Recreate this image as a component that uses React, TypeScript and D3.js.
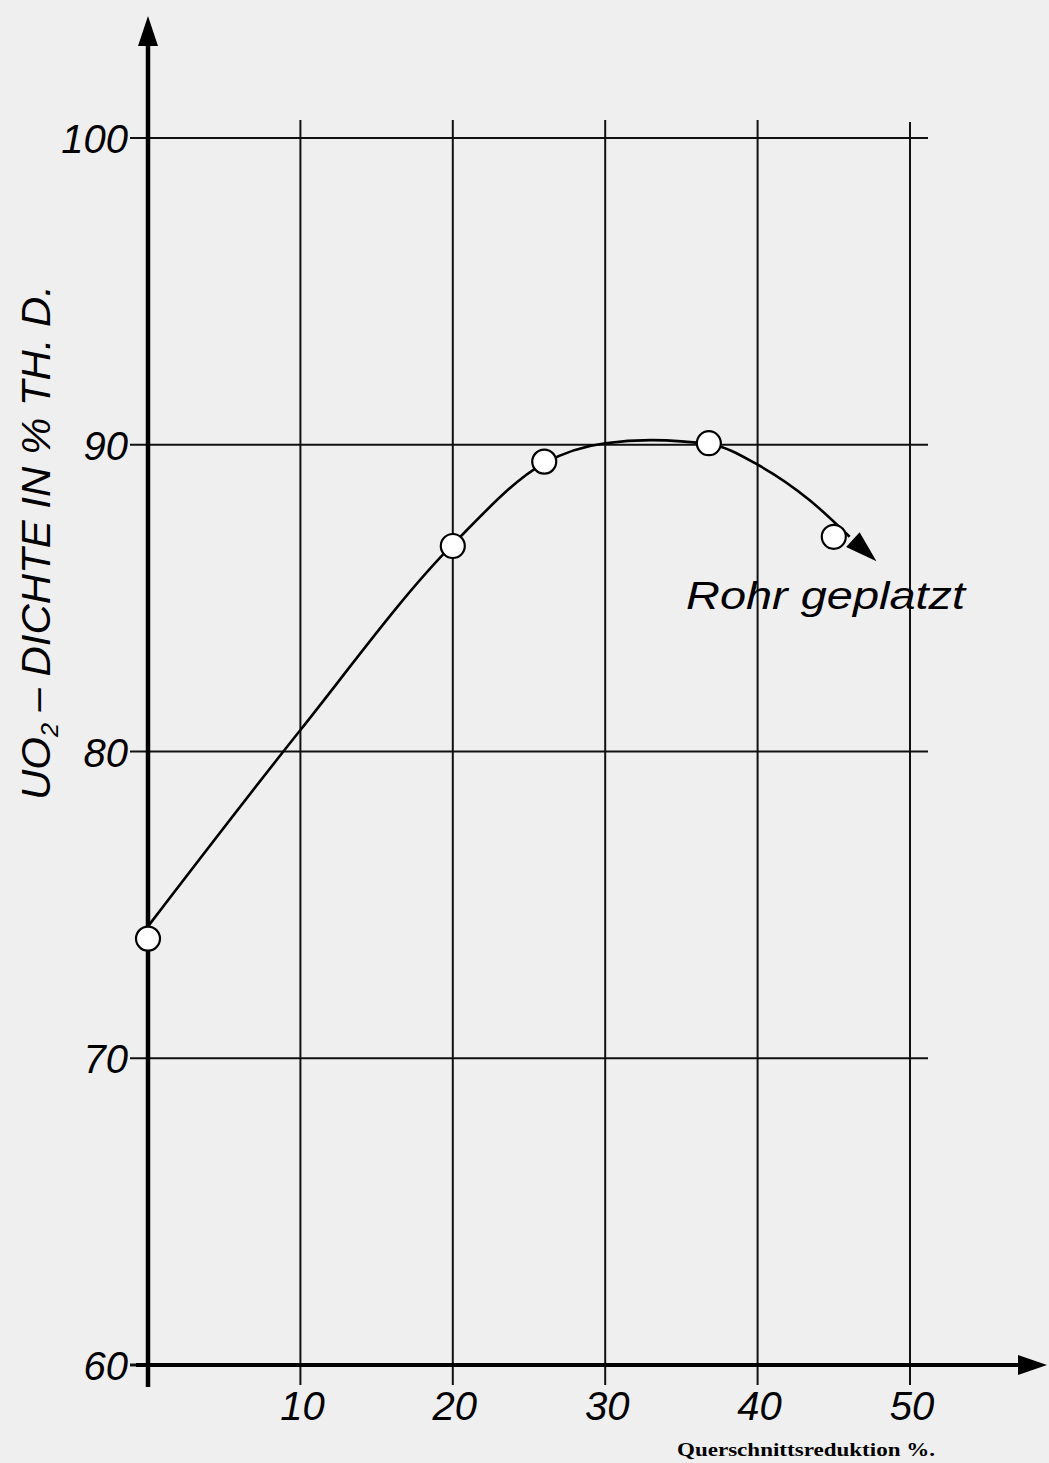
import React from "react";
import * as d3 from "d3";

// ---- data ----
const xTicks = [10, 20, 30, 40, 50];
const yTicks = [60, 70, 80, 90, 100];
const reduction = [0, 20, 26, 36.8, 45];
const density = [73.9, 86.7, 89.45, 90.05, 87.0];
const curveX = [0, 10, 20, 26, 30, 33, 37, 40, 43.4, 47.8];
const curveY = [74.3, 80.7, 86.75, 89.4, 90.05, 90.15, 90.0, 89.35, 88.2, 86.2];

const W = 1049;
const H = 1463;

export default function App() {
  const x = d3.scaleLinear().domain([0, 50]).range([148, 910]);
  const y = d3.scaleLinear().domain([60, 100]).range([1365, 138]);

  const curvePts: [number, number][] = curveX.map((v, i) => [x(v), y(curveY[i])]);
  const n = curvePts.length;
  const tip = curvePts[n - 1];
  const prev = curvePts[n - 2];
  const lineEnd: [number, number] = [prev[0] + (tip[0] - prev[0]) * 0.6, prev[1] + (tip[1] - prev[1]) * 0.6];
  const line = d3.line<[number, number]>().curve(d3.curveMonotoneX);
  const curvePath = line(curvePts.slice(0, n - 1).concat([lineEnd])) as string;

  // arrow head at end of curve
  const ang = Math.atan2(tip[1] - prev[1], tip[0] - prev[0]);
  const hl = 32, hw = 10;
  const bx = tip[0] - hl * Math.cos(ang);
  const by = tip[1] - hl * Math.sin(ang);
  const head = `M${tip[0]},${tip[1]} L${bx + hw * Math.sin(ang)},${by - hw * Math.cos(ang)} L${bx - hw * Math.sin(ang)},${by + hw * Math.cos(ang)} Z`;

  const x0 = x(0);
  const y0 = y(60);
  const font = "'Liberation Sans', Arial, sans-serif";

  return (
    <svg
      width={W}
      height={H}
      viewBox={`0 0 ${W} ${H}`}
      style={{ position: "absolute", left: 0, top: 0, background: "#efefef" }}
    >
      <rect x={0} y={0} width={W} height={H} fill="#efefef" />

      {/* horizontal grid lines */}
      {yTicks.filter((t) => t > 60).map((t) => (
        <line key={"h" + t} x1={x0 - 18} x2={928} y1={y(t)} y2={y(t)} stroke="#111" strokeWidth={2} />
      ))}
      {/* vertical grid lines */}
      {xTicks.map((t) => (
        <line key={"v" + t} x1={x(t)} x2={x(t)} y1={t === 50 ? 122 : 120} y2={y0 + 20} stroke="#111" strokeWidth={2} />
      ))}
      {/* y tick at 60 */}
      <line x1={x0 - 18} x2={x0} y1={y0} y2={y0} stroke="#111" strokeWidth={3} />

      {/* axes */}
      <line x1={x0} x2={x0} y1={y0 + 22} y2={40} stroke="#000" strokeWidth={4.5} />
      <path d={`M${x0},16 L${x0 - 10},46 L${x0 + 10},46 Z`} fill="#000" />
      <line x1={x0 - 12} x2={1025} y1={y0} y2={y0} stroke="#000" strokeWidth={4} />
      <path d={`M1047,${y0} L1018,${y0 - 10} L1018,${y0 + 10} Z`} fill="#000" />

      {/* curve */}
      <path d={curvePath} fill="none" stroke="#000" strokeWidth={2.6} />
      <path d={head} fill="#000" />

      {/* points */}
      {reduction.map((r, i) => (
        <circle key={"p" + i} cx={x(r)} cy={y(density[i])} r={12} fill="#fff" stroke="#000" strokeWidth={2.2} />
      ))}

      {/* y tick labels */}
      {yTicks.map((t) => (
        <text
          key={"yl" + t}
          x={x0 - 20}
          y={y(t) + 15}
          textAnchor="end"
          fontFamily={font}
          fontStyle="italic"
          fontSize={40}
          fill="#000"
        >
          {t}
        </text>
      ))}
      {/* x tick labels */}
      {xTicks.map((t) => (
        <text
          key={"xl" + t}
          x={x(t) + 2}
          y={y0 + 55}
          textAnchor="middle"
          fontFamily={font}
          fontStyle="italic"
          fontSize={40}
          fill="#000"
        >
          {t}
        </text>
      ))}

      {/* y axis title */}
      <text
        transform={`translate(50,800) rotate(-90)`}
        fontFamily={font}
        fontStyle="italic"
        fontSize={40}
        fill="#000"
        textLength={515}
        lengthAdjust="spacingAndGlyphs"
      >
        UO<tspan fontSize={24} dy={8}>2</tspan>
        <tspan dy={-8}> – DICHTE  IN % TH. D.</tspan>
      </text>

      {/* annotation */}
      <text
        x={686}
        y={609}
        fontFamily={font}
        fontStyle="italic"
        fontSize={38}
        fill="#000"
        textLength={279}
        lengthAdjust="spacingAndGlyphs"
      >
        Rohr geplatzt
      </text>

      {/* x axis title */}
      <text
        x={677}
        y={1456}
        fontFamily="'Liberation Serif', 'DejaVu Serif', serif"
        fontWeight="bold"
        fontSize={19}
        fill="#000"
        textLength={258}
        lengthAdjust="spacingAndGlyphs"
      >
        Querschnittsreduktion %.
      </text>
    </svg>
  );
}
